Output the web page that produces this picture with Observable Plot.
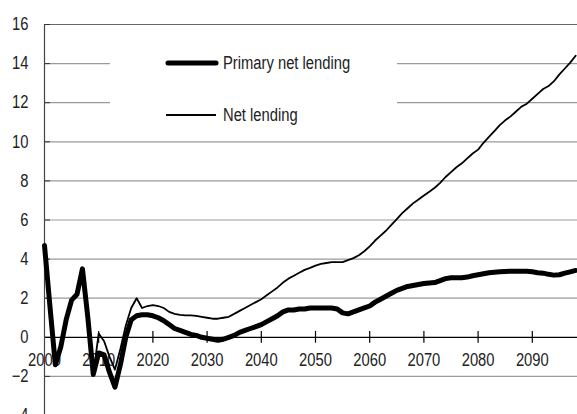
<!DOCTYPE html>
<html>
<head>
<meta charset="utf-8">
<script src="https://cdn.jsdelivr.net/npm/d3@7"></script>
<script src="https://cdn.jsdelivr.net/npm/@observablehq/plot@0.6"></script>
<style>
  html, body { margin: 0; padding: 0; background: #fff; overflow: hidden; width: 577px; height: 414px; }
  #wrap { position: relative; width: 577px; height: 414px; overflow: hidden; }
  #chart svg { display: block; max-width: none !important; width: 586px !important; height: 416px !important; }
  .lg { position: absolute; left: 110px; top: 44px; width: 287px; height: 90px; background: #fff; }
  .item { position: absolute; left: 55px; height: 20px; display: flex; align-items: center; white-space: nowrap; }
  .item svg { display: block; }
  .item span { display: inline-block; margin-left: 4px; font-family: "Liberation Sans", Arial, sans-serif; font-size: 18px; color: #222; transform: scaleX(0.82); transform-origin: left center; }
</style>
</head>
<body>
<div id="wrap">
  <div id="chart"></div>
  <div class="lg">
    <div class="item" style="top:9px"><svg width="54" height="20"><line x1="3" x2="51" y1="10" y2="10" stroke="#000" stroke-width="5" stroke-linecap="round"/></svg><span id="lab0"></span></div>
    <div class="item" style="top:61px"><svg width="54" height="20"><line x1="1" x2="51" y1="10" y2="10" stroke="#000" stroke-width="2"/></svg><span id="lab1"></span></div>
  </div>
</div>
<script>
const seriesNames = ["Primary net lending", "Net lending"];
const years = d3.range(2000, 2099);
const primary = [
  4.7, 1.6, -1.4, -0.5, 0.9, 1.9, 2.2, 3.5, 1.0, -1.9,
  -0.8, -0.9, -1.8, -2.55, -1.4, 0.0, 0.9, 1.1, 1.15, 1.15,
  1.1, 1.0, 0.85, 0.65, 0.45, 0.35, 0.25, 0.15, 0.1, 0.0,
  -0.05, -0.1, -0.15, -0.1, 0.0, 0.1, 0.25, 0.35, 0.45, 0.55,
  0.65, 0.8, 0.95, 1.1, 1.3, 1.4, 1.4, 1.45, 1.45, 1.5,
  1.5, 1.5, 1.5, 1.5, 1.45, 1.25, 1.2, 1.3, 1.4, 1.5,
  1.6, 1.8, 1.95, 2.1, 2.25, 2.4, 2.5, 2.6, 2.65, 2.7,
  2.75, 2.78, 2.8, 2.9, 3.0, 3.05, 3.05, 3.05, 3.08, 3.15,
  3.2, 3.25, 3.3, 3.33, 3.35, 3.37, 3.38, 3.38, 3.38, 3.38,
  3.35, 3.3, 3.28, 3.22, 3.18, 3.2, 3.28, 3.35, 3.42
];
const netLending = [
  4.7, 1.6, -1.4, -0.6, 1.0, 1.9, 2.1, 3.4, 1.2, -1.9,
  0.2, -0.2, -1.0, -1.65, -0.6, 0.6, 1.5, 2.0, 1.5, 1.6,
  1.65, 1.6, 1.5, 1.3, 1.2, 1.15, 1.12, 1.12, 1.1, 1.05,
  1.0, 0.95, 0.95, 1.0, 1.05, 1.2, 1.35, 1.5, 1.65, 1.8,
  1.95, 2.15, 2.35, 2.55, 2.8, 3.0, 3.15, 3.3, 3.45, 3.55,
  3.67, 3.75, 3.8, 3.85, 3.85, 3.85, 3.95, 4.05, 4.2, 4.4,
  4.65, 4.95, 5.2, 5.45, 5.75, 6.05, 6.35, 6.6, 6.85, 7.05,
  7.25, 7.45, 7.65, 7.9, 8.2, 8.45, 8.7, 8.9, 9.15, 9.4,
  9.6, 9.95, 10.25, 10.55, 10.85, 11.1, 11.3, 11.55, 11.8, 11.95,
  12.2, 12.45, 12.7, 12.85, 13.1, 13.45, 13.75, 14.05, 14.4
];
const yTicks = [-4, -2, 0, 2, 4, 6, 8, 10, 12, 14, 16];
const yGrid = [-2, 2, 4, 6, 8, 10, 12, 14];
const xTicks = [2010, 2020, 2030, 2040, 2050, 2060, 2070, 2080, 2090];
const xLabels = [2000, 2010, 2020, 2030, 2040, 2050, 2060, 2070, 2080, 2090];

document.getElementById("lab0").textContent = seriesNames[0];
document.getElementById("lab1").textContent = seriesNames[1];

const rows = years.map((y, i) => ({year: y, primary: primary[i], net: netLending[i]}));
const font = '"Liberation Sans", Arial, sans-serif';

const chart = Plot.plot({
  width: 586,
  height: 416,
  marginLeft: 44,
  marginRight: 0,
  marginTop: 24,
  marginBottom: 1,
  style: {fontFamily: font, fontSize: "18px", color: "#222", background: "#fff", overflow: "visible"},
  x: {domain: [2000, 2100], axis: null},
  y: {domain: [-4, 16], axis: null},
  marks: [
    Plot.ruleY(yGrid, {stroke: "#9a9a9a", strokeWidth: 1.2}),
    Plot.ruleY([16], {stroke: "#666", strokeWidth: 1.2}),
    Plot.ruleY(yTicks, {x1: 2000, x2: 2001.1, stroke: "#333"}),
    Plot.ruleY([0], {stroke: "#000", strokeWidth: 1.2}),
    Plot.ruleX([2000], {stroke: "#444", strokeWidth: 1.2}),
    Plot.ruleX(xTicks, {y1: -0.3, y2: 0.3, stroke: "#000", strokeWidth: 1.2}),
    Plot.axisY(yTicks, {tickSize: 0, tickPadding: 16, fontSize: 18, fill: "#222"}),
    Plot.text(xLabels, {x: d => d, y: 0, dy: 23, text: d => String(d), fontSize: 18, fill: "#222"}),
    Plot.line(rows, {x: "year", y: "primary", stroke: "#000", strokeWidth: 5, strokeLinejoin: "round"}),
    Plot.line(rows, {x: "year", y: "net", stroke: "#000", strokeWidth: 1.8, strokeLinejoin: "round"})
  ]
});
document.getElementById("chart").appendChild(chart);
// condense glyphs to mimic a narrow typeface
chart.querySelectorAll("text").forEach(t => {
  const len = t.getComputedTextLength();
  if (len > 0) {
    t.setAttribute("textLength", (len * 0.82).toFixed(2));
    t.setAttribute("lengthAdjust", "spacingAndGlyphs");
  }
});
</script>
</body>
</html>
